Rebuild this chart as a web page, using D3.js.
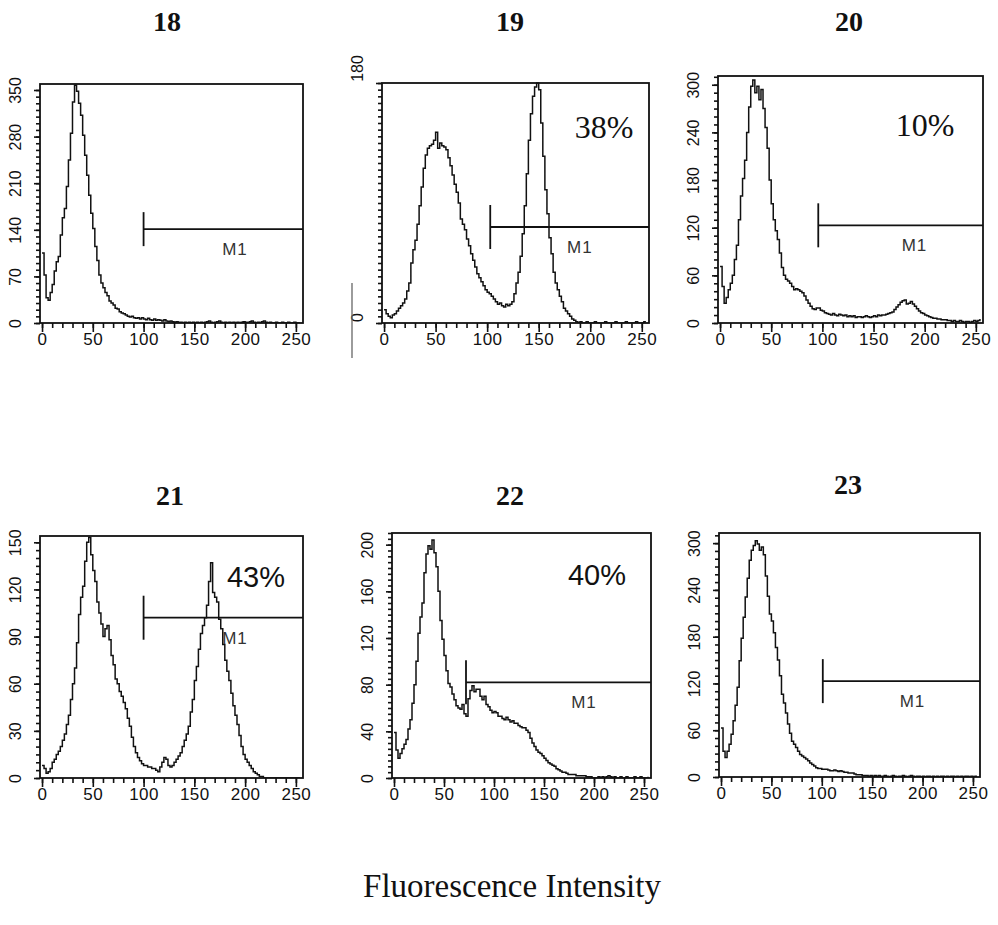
<!DOCTYPE html>
<html>
<head>
<meta charset="utf-8">
<script src="https://cdn.jsdelivr.net/npm/d3@7"></script>
<style>
  html, body { margin: 0; padding: 0; background: #fff; }
  svg { display: block; }
</style>
</head>
<body>
<svg id="chart" width="998" height="925"></svg>
<script>
// ---------------- DATA ----------------
const panelTitles = ["18", "19", "20", "21", "22", "23"];
const percentLabels = ["", "38%", "10%", "43%", "40%", ""];
const yMax = [359, 180, 311, 154, 210, 313];
const yTickLabels = [
  [0, 70, 140, 210, 280, 350],
  [0, 180],
  [0, 60, 120, 180, 240, 300],
  [0, 30, 60, 90, 120, 150],
  [0, 40, 80, 120, 160, 200],
  [0, 60, 120, 180, 240, 300]
];
const yMinorStep = [10, 5, 10, 5, 5, 10];
const xTickLabels = [0, 50, 100, 150, 200, 250];
const gateStart = [100, 103, 96, 100, 72, 101];
const gateLevel = [141, 72, 123, 102, 82, 123];
const gateLabel = "M1";
const xAxisTitle = "Fluorescence Intensity";

// histogram counts, one value per 2 channels (0,2,4,...,254)
const counts18 = [
  105,72,38,34,46,58,78,92,100,132,158,172,205,245,285,332,
  357,348,330,312,282,252,222,192,165,142,115,94,72,60,53,46,
  41,33,30,27,22,21,17,15,14,12,10,9,10,8,7,8,
  6,8,6,5,7,5,4,6,4,5,4,3,5,3,2,3,
  2,1,2,1,1,0,1,0,1,0,1,0,1,0,1,0,
  1,2,3,1,0,1,2,3,1,0,1,0,1,0,1,0,
  1,0,1,2,1,0,2,3,1,0,1,0,2,3,1,0,
  1,0,0,1,0,0,1,0,0,1,0,0,1,0,0,0
];
const counts19 = [
  10,7,5,4,6,7,9,11,13,15,18,24,30,45,55,62,
  74,88,102,116,126,131,133,134,137,143,131,135,133,132,130,124,
  118,111,104,98,90,78,74,70,63,58,52,47,42,37,34,31,
  28,25,23,22,20,18,16,14,15,13,12,14,13,14,16,22,
  30,38,50,67,88,112,137,157,170,177,180,175,150,125,100,82,
  64,52,38,30,25,20,16,11,9,7,5,3,2,1,0,1,
  0,0,1,0,0,0,1,0,0,0,0,1,0,0,0,0,
  1,0,0,0,0,1,0,0,0,0,1,0,0,0,1,1
];
const counts20 = [
  71,46,25,32,42,50,60,80,98,130,160,182,205,240,272,298,
  306,290,298,281,294,270,246,220,180,150,130,116,105,88,70,60,
  55,53,50,46,42,43,42,40,38,34,29,25,21,18,17,19,
  19,16,15,13,12,11,10,12,10,9,11,10,9,10,8,9,
  8,9,7,8,8,7,8,9,8,7,8,9,8,10,9,10,
  10,11,12,13,14,17,20,23,26,28,29,24,25,27,24,21,
  18,15,13,12,10,9,8,7,6,6,5,5,4,4,4,3,
  3,2,3,2,2,3,2,1,2,2,1,2,3,2,3,5
];
const counts21 = [
  8,6,3,4,6,10,12,15,17,20,24,28,34,40,50,60,
  70,86,104,115,122,138,150,153,142,132,125,112,105,98,90,95,
  97,88,78,72,63,60,55,52,48,44,38,33,26,20,16,13,
  11,9,8,8,7,7,6,6,5,4,7,10,13,12,8,7,
  8,10,12,14,16,20,24,28,33,42,50,62,71,82,92,97,
  102,110,125,137,118,115,112,101,95,85,75,68,62,54,46,40,
  34,27,20,15,12,10,8,6,4,3,2,1,1,0,0,0,
  0,0,0,0,0,0,0,0,0,0,0,0,0,0,0,0
];
const counts22 = [
  39,24,17,21,25,29,33,42,50,64,80,100,124,138,150,176,
  192,199,196,204,193,181,160,135,119,105,92,81,78,72,67,62,
  60,59,63,55,53,68,75,79,74,76,76,70,67,70,63,61,
  58,56,57,56,53,53,51,50,52,50,48,49,47,47,45,44,
  43,43,41,39,34,30,27,24,22,21,19,17,15,13,12,11,
  10,8,7,6,5,5,4,3,3,3,3,2,2,2,2,2,
  1,1,1,0,0,0,1,0,1,0,1,2,1,0,1,0,
  0,1,0,0,1,0,0,0,1,0,0,1,0,0,0,1
];
const counts23 = [
  63,33,25,33,42,55,72,92,115,149,178,205,231,255,278,291,
  297,303,299,291,295,285,258,232,209,200,185,166,150,130,106,95,
  82,68,56,46,42,38,33,29,27,25,23,21,18,16,14,12,
  11,11,10,10,10,9,8,8,9,8,7,8,7,6,6,5,
  5,5,4,3,3,3,2,2,2,1,2,1,2,1,2,1,
  1,2,1,0,1,2,1,0,1,1,2,1,0,1,2,1,
  0,1,1,0,1,0,1,1,0,1,0,1,0,1,1,0,
  1,0,1,1,0,1,0,1,0,1,1,0,1,0,1,1
];
const allCounts = [counts18, counts19, counts20, counts21, counts22, counts23];

// ---------------- LAYOUT ----------------
const layout = [
  {left: 40,  top: 84,  right: 303, bottom: 323, titleX: 167, titleY: 31,  pctX: 0,   pctY: 0,  pctFont: "serif"},
  {left: 382, top: 83,  right: 649, bottom: 323, titleX: 510, titleY: 31,  pctX: 222, pctY: 55, pctFont: "serif"},
  {left: 718, top: 76,  right: 983, bottom: 323, titleX: 849, titleY: 31,  pctX: 207, pctY: 60, pctFont: "serif"},
  {left: 40,  top: 536, right: 303, bottom: 778, titleX: 170, titleY: 505, pctX: 216, pctY: 51, pctFont: "sans"},
  {left: 392, top: 533, right: 651, bottom: 778, titleX: 510, titleY: 505, pctX: 205, pctY: 52, pctFont: "sans"},
  {left: 719, top: 533, right: 980, bottom: 777, titleX: 848, titleY: 494, pctX: 0,   pctY: 0,  pctFont: "sans"}
];
const SANS = "'Liberation Sans', Arial, Helvetica, sans-serif";
const SERIF = "'Liberation Serif', 'Times New Roman', serif";

const svg = d3.select("#chart");
svg.append("rect").attr("width", 998).attr("height", 925).attr("fill", "#fff");

panelTitles.forEach((title, i) => {
  const L = layout[i];
  const w = L.right - L.left, h = L.bottom - L.top;
  const x = d3.scaleLinear().domain([-2, 257]).range([0, w]);
  const y = d3.scaleLinear().domain([0, yMax[i]]).range([h, 0]);

  const g = svg.append("g").attr("transform", `translate(${L.left},${L.top})`);

  // title
  svg.append("text")
    .attr("x", L.titleX).attr("y", L.titleY)
    .attr("text-anchor", "middle")
    .attr("font-family", SERIF).attr("font-weight", "bold").attr("font-size", 28)
    .attr("fill", "#111")
    .text(title);

  // clip
  const clipId = "clip" + i;
  g.append("clipPath").attr("id", clipId)
    .append("rect").attr("x", 0).attr("y", -1).attr("width", w).attr("height", h + 1);

  // histogram
  const pts = allCounts[i].map((v, k) => ({ch: k * 2, v: v}));
  const line = d3.line().x(d => x(d.ch)).y(d => y(d.v)).curve(d3.curveStepAfter);
  g.append("path")
    .datum(pts)
    .attr("clip-path", `url(#${clipId})`)
    .attr("fill", "none").attr("stroke", "#111").attr("stroke-width", 1.5)
    .attr("d", line);

  // frame
  g.append("rect").attr("x", 0).attr("y", 0).attr("width", w).attr("height", h)
    .attr("fill", "none").attr("stroke", "#111").attr("stroke-width", 1.8);

  // x axis: minor ticks
  const xMinor = d3.axisBottom(x).tickValues(d3.range(0, 257, 10)).tickSize(5).tickFormat("");
  const gxm = g.append("g").attr("transform", `translate(0,${h})`).call(xMinor);
  gxm.select(".domain").remove();
  gxm.selectAll("line").attr("stroke", "#111").attr("stroke-width", 1.6);
  // x axis: major ticks with labels
  const xMajor = d3.axisBottom(x).tickValues(xTickLabels).tickSize(9).tickPadding(1);
  const gx = g.append("g").attr("transform", `translate(0,${h})`).call(xMajor);
  gx.select(".domain").remove();
  gx.selectAll("line").attr("stroke", "#111").attr("stroke-width", 1.6);
  gx.selectAll("text")
    .style("font-family", SANS).style("font-size", "17px").attr("fill", "#111")
    .style("letter-spacing", "0.5px")
    .attr("y", 10).attr("dy", "0.71em");

  // y axis: minor ticks
  const yMinor = d3.axisLeft(y).tickValues(d3.range(0, yMax[i] + 0.01, yMinorStep[i])).tickSize(4).tickFormat("");
  const gym = g.append("g").call(yMinor);
  gym.select(".domain").remove();
  gym.selectAll("line").attr("stroke", "#111").attr("stroke-width", 1.6);
  // y axis: labelled ticks
  const yMajor = d3.axisLeft(y).tickValues(yTickLabels[i]).tickSize(6);
  const gy = g.append("g").call(yMajor);
  gy.select(".domain").remove();
  gy.selectAll("line").attr("stroke", "#111").attr("stroke-width", 1.6);
  gy.selectAll("text")
    .style("font-family", SANS).style("font-size", "16px").attr("fill", "#111")
    .attr("text-anchor", "middle")
    .attr("dy", 0).attr("x", 0).attr("y", -19)
    .attr("transform", d => {
      // panel 19 labels sit slightly above their ticks in the original
      const shift = (i === 1) ? (d === 0 ? -6 : -15) : 0;
      return `rotate(-90) translate(${-shift},0)`;
    });

  // M1 gate marker
  const gy0 = y(gateLevel[i]);
  const half = i === 0 ? 17 : 22;
  g.append("line")
    .attr("x1", x(gateStart[i])).attr("x2", x(gateStart[i]))
    .attr("y1", gy0 - half).attr("y2", gy0 + half)
    .attr("stroke", "#111").attr("stroke-width", 1.8);
  g.append("line")
    .attr("x1", x(gateStart[i])).attr("x2", w)
    .attr("y1", gy0).attr("y2", gy0)
    .attr("stroke", "#111").attr("stroke-width", 1.8);
  g.append("text")
    .attr("x", x(190)).attr("y", gy0 + 26)
    .attr("text-anchor", "middle")
    .style("font-family", SANS).style("font-size", "17px").style("letter-spacing", "1px")
    .attr("fill", "#333")
    .text(gateLabel);

  // percentage label
  if (percentLabels[i]) {
    const isSerif = L.pctFont === "serif";
    g.append("text")
      .attr("x", L.pctX).attr("y", L.pctY)
      .attr("text-anchor", "middle")
      .style("font-family", isSerif ? SERIF : SANS)
      .style("font-size", isSerif ? "32px" : "29px")
      .attr("fill", "#111")
      .text(percentLabels[i]);
  }
});

// stray vertical rule left of panel 19 (present in the scanned figure)
svg.append("line")
  .attr("x1", 352).attr("x2", 352).attr("y1", 283).attr("y2", 358)
  .attr("stroke", "#666").attr("stroke-width", 1.3);

// overall x-axis title
svg.append("text")
  .attr("x", 512).attr("y", 897)
  .attr("text-anchor", "middle")
  .style("font-family", SERIF).style("font-size", "33px")
  .attr("fill", "#111")
  .text(xAxisTitle);
</script>
</body>
</html>
